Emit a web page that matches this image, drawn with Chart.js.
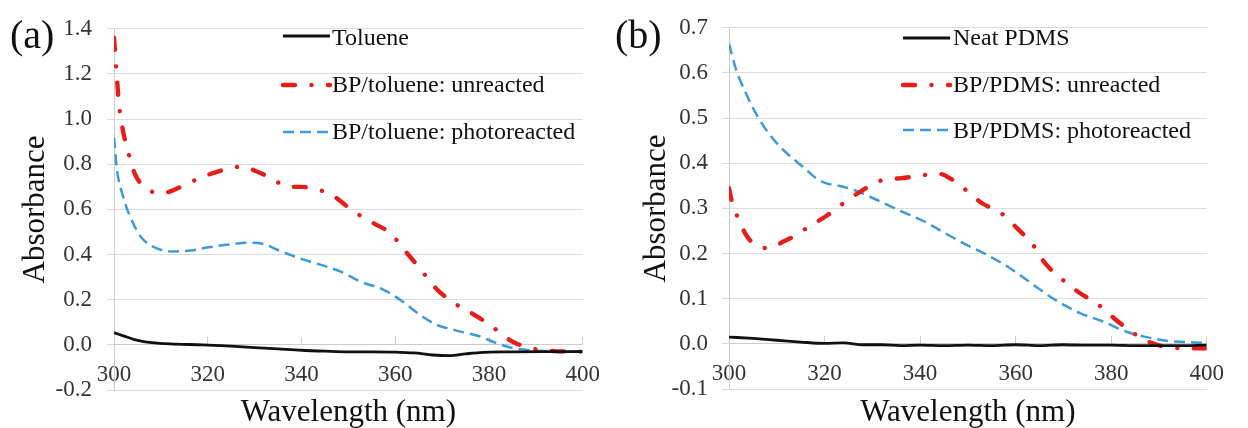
<!DOCTYPE html>
<html><head><meta charset="utf-8">
<script src="https://cdn.jsdelivr.net/npm/chart.js@4"></script>
<style>
html,body{margin:0;padding:0;background:#fff;width:1248px;height:428px;overflow:hidden}
#ca{position:absolute;left:0;top:0}
#cb{position:absolute;left:600px;top:0}
</style></head><body>
<canvas id="ca" width="624" height="428"></canvas>
<canvas id="cb" width="648" height="428"></canvas>
<script>
// ---------- Tick values / labels ----------
const xTickValues = [300, 320, 340, 360, 380, 400];
const xTickLabels = ['300', '320', '340', '360', '380', '400'];
const yTickValuesA = [-0.2, 0, 0.2, 0.4, 0.6, 0.8, 1.0, 1.2, 1.4];
const yTickLabelsA = ['-0.2', '0.0', '0.2', '0.4', '0.6', '0.8', '1.0', '1.2', '1.4'];
const yTickValuesB = [-0.1, 0, 0.1, 0.2, 0.3, 0.4, 0.5, 0.6, 0.7];
const yTickLabelsB = ['-0.1', '0.0', '0.1', '0.2', '0.3', '0.4', '0.5', '0.6', '0.7'];

// ---------- Panel (a): toluene ----------
const tolueneWl  = [300, 302, 305, 308, 312, 319, 325, 330, 335, 340, 345, 350, 355, 360, 364, 368, 371.5, 375, 378, 385, 392, 400];
const tolueneAbs = [0.054, 0.04, 0.02, 0.01, 0.004, 0.0, -0.006, -0.012, -0.018, -0.024, -0.028, -0.031, -0.031, -0.032, -0.036, -0.045, -0.048, -0.04, -0.034, -0.031, -0.03, -0.03];

const bpTolUnWl  = [300, 300.6, 301, 301.9, 302.7, 304.4, 306.5, 310, 312, 315.2, 319, 324.3, 327.5, 330.2, 333.4, 337.2, 340, 342.8, 346.3, 348.4, 350.9, 355.3, 359.2, 361.7, 365.2, 368.7, 372.2, 376.3, 380.2, 384.7, 388.3, 393.1, 397.3, 400];
const bpTolUnAbs = [1.36, 1.19, 1.08, 0.95, 0.88, 0.76, 0.70, 0.67, 0.68, 0.71, 0.745, 0.78, 0.79, 0.77, 0.74, 0.70, 0.70, 0.69, 0.667, 0.635, 0.594, 0.54, 0.49, 0.426, 0.34, 0.25, 0.19, 0.14, 0.088, 0.018, -0.012, -0.026, -0.03, -0.03];

const bpTolPhWl  = [300, 300.6, 301.9, 303.4, 305.8, 309.3, 312.8, 316.3, 320.5, 324.7, 328.9, 331.7, 335.2, 340.1, 345.6, 348.4, 352.6, 357.5, 361.7, 365.2, 368.7, 372.9, 377.8, 381.3, 385.5, 390.4, 395, 400];
const bpTolPhAbs = [0.92, 0.78, 0.66, 0.57, 0.477, 0.426, 0.414, 0.418, 0.433, 0.445, 0.452, 0.448, 0.418, 0.38, 0.345, 0.324, 0.28, 0.244, 0.19, 0.134, 0.09, 0.064, 0.039, 0.01, -0.016, -0.026, -0.03, -0.03];

// ---------- Panel (b): PDMS ----------
const pdmsWl  = [300, 305, 310, 315, 320, 324, 328, 332, 336, 340, 345, 350, 355, 360, 365, 370, 375, 380, 385, 390, 395, 400];
const pdmsAbs = [0.015, 0.012, 0.008, 0.004, 0.001, 0.002, -0.002, -0.002, -0.004, -0.003, -0.004, -0.003, -0.004, -0.002, -0.004, -0.002, -0.003, -0.003, -0.004, -0.004, -0.004, -0.003];

const bpPdUnWl  = [300, 300.5, 301.9, 303.9, 305.5, 308.1, 311.5, 313.9, 316.2, 320.2, 323.9, 326.9, 331.9, 336.2, 340.9, 344.2, 346.2, 349.2, 352.9, 356.9, 360.5, 363.5, 366.2, 369.5, 373.5, 376.9, 380.9, 384.2, 388.2, 392.5, 397.5, 400];
const bpPdUnAbs = [0.345, 0.32, 0.278, 0.236, 0.22, 0.212, 0.227, 0.24, 0.256, 0.282, 0.311, 0.333, 0.362, 0.367, 0.374, 0.376, 0.367, 0.344, 0.312, 0.29, 0.254, 0.221, 0.178, 0.145, 0.112, 0.09, 0.054, 0.027, 0.003, -0.008, -0.01, -0.01];

const bpPdPhWl  = [300, 301.5, 303.5, 305.9, 308.9, 312.2, 315.5, 318.2, 320.2, 323.5, 326.9, 331.5, 336.2, 340.9, 344.9, 349.2, 353.5, 358.9, 364.2, 368.2, 373.5, 378.2, 382.9, 386.9, 391.5, 397.5, 400];
const bpPdPhAbs = [0.665, 0.607, 0.556, 0.505, 0.458, 0.421, 0.392, 0.367, 0.356, 0.349, 0.338, 0.316, 0.293, 0.271, 0.247, 0.222, 0.2, 0.167, 0.127, 0.098, 0.068, 0.05, 0.028, 0.016, 0.007, 0.003, 0.002];

// ---------- Styling ----------
Chart.defaults.font.family = '"Liberation Serif", "Times New Roman", serif';
const gridC = '#dcdcdc';
const axisC = '#cccccc';
const tickC = '#333333';
const titleC = '#111111';

function pts(xs, ys) { return xs.map((x, i) => ({x: x, y: ys[i]})); }

function solidSet(label, xs, ys) {
  return {label, data: pts(xs, ys), borderColor: '#111111', borderWidth: 2.8,
    pointRadius: 0, cubicInterpolationMode: 'monotone', fill: false};
}
function dashDotSet(label, xs, ys) {
  return {label, data: pts(xs, ys), borderColor: '#e61e1a', borderWidth: 4.4,
    borderDash: [12, 16.5, 0.01, 16.5], borderCapStyle: 'round',
    pointRadius: 0, cubicInterpolationMode: 'monotone', fill: false};
}
function dashSet(label, xs, ys) {
  return {label, data: pts(xs, ys), borderColor: '#3e9ad8', borderWidth: 2.5,
    borderDash: [11, 6], pointRadius: 0, cubicInterpolationMode: 'monotone', fill: false};
}

const decor = {
  id: 'decor',
  afterDraw(chart, args, o) {
    const ctx = chart.ctx;
    ctx.save();
    ctx.fillStyle = titleC;
    ctx.textAlign = 'left';
    ctx.textBaseline = 'alphabetic';
    ctx.font = '40px "Liberation Serif", serif';
    ctx.fillText(o.panel, o.panelX, o.panelY);
    ctx.font = '24px "Liberation Serif", serif';
    chart.data.datasets.forEach((ds, i) => {
      const r = o.rows[i];
      ctx.save();
      ctx.strokeStyle = ds.borderColor;
      ctx.lineWidth = ds.borderWidth;
      ctx.setLineDash(ds.borderDash || []);
      ctx.lineCap = ds.borderCapStyle || 'butt';
      ctx.beginPath();
      ctx.moveTo(o.x0, r.ly);
      ctx.lineTo(o.x1, r.ly);
      ctx.stroke();
      ctx.restore();
      ctx.fillStyle = titleC;
      ctx.fillText(ds.label, o.tx, r.ty);
    });
    ctx.restore();
  }
};

function makeChart(id, c) {
  return new Chart(document.getElementById(id), {
    type: 'line',
    data: {datasets: c.datasets},
    plugins: [decor],
    options: {
      responsive: false, animation: false, devicePixelRatio: 1,
      layout: {padding: {left: 0, right: c.padRight, top: c.padTop, bottom: 0}},
      plugins: {legend: {display: false}, tooltip: {enabled: false}, decor: c.decor},
      scales: {
        x: {
          type: 'linear', position: {y: 0}, min: 300, max: 400,
          afterBuildTicks: a => { a.ticks = xTickValues.map(v => ({value: v})); },
          ticks: {callback: (v, i) => xTickLabels[i], padding: 24, font: {size: 23}, color: tickC,
                  maxRotation: 0, autoSkip: false},
          grid: {display: true, drawOnChartArea: false, drawTicks: true, tickLength: -8, color: axisC},
          border: {display: true, color: axisC, width: 1},
          afterFit: a => { a.height = 0; }
        },
        xt: {
          type: 'linear', axis: 'x', position: 'bottom',
          ticks: {display: false}, grid: {display: false}, border: {display: false},
          title: {display: true, text: 'Wavelength (nm)', color: titleC,
                  font: {size: 31, lineHeight: 1}, padding: 0},
          afterFit: a => { a.height = c.xtH; }
        },
        y: {
          type: 'linear', position: 'left', min: c.yMin, max: c.yMax,
          afterBuildTicks: a => { a.ticks = c.yVals.map(v => ({value: v})); },
          ticks: {callback: (v, i) => c.yLabels[i], padding: c.yPad, font: {size: 23}, color: tickC, autoSkip: false},
          grid: {color: gridC, tickLength: 7, drawTicks: true},
          border: {display: true, color: axisC, width: 1},
          title: {display: true, text: 'Absorbance', color: titleC,
                  font: {size: 31, lineHeight: 1}, padding: {top: c.yTitlePad, bottom: 0}},
          afterFit: a => { a.width = c.yW; }
        }
      }
    }
  });
}

makeChart('ca', {
  datasets: [
    solidSet('Toluene', tolueneWl, tolueneAbs),
    dashDotSet('BP/toluene: unreacted', bpTolUnWl, bpTolUnAbs),
    dashSet('BP/toluene: photoreacted', bpTolPhWl, bpTolPhAbs)
  ],
  padRight: 33, padTop: 25, xtH: 38, yW: 114, yPad: 15, yTitlePad: 20,
  yMin: -0.2, yMax: 1.4, yVals: yTickValuesA, yLabels: yTickLabelsA,
  decor: {panel: '(a)', panelX: 10, panelY: 48, x0: 283, x1: 330, tx: 332,
          rows: [{ly: 36, ty: 45}, {ly: 85, ty: 92}, {ly: 132, ty: 139}]}
});

makeChart('cb', {
  datasets: [
    solidSet('Neat PDMS', pdmsWl, pdmsAbs),
    dashDotSet('BP/PDMS: unreacted', bpPdUnWl, bpPdUnAbs),
    dashSet('BP/PDMS: photoreacted', bpPdPhWl, bpPdPhAbs)
  ],
  padRight: 20, padTop: 22, xtH: 39, yW: 129, yPad: 14, yTitlePad: 41,
  yMin: -0.1, yMax: 0.7, yVals: yTickValuesB, yLabels: yTickLabelsB,
  decor: {panel: '(b)', panelX: 15, panelY: 48, x0: 303, x1: 350, tx: 353,
          rows: [{ly: 38, ty: 45}, {ly: 85, ty: 92}, {ly: 130, ty: 138}]}
});
</script>
</body></html>
